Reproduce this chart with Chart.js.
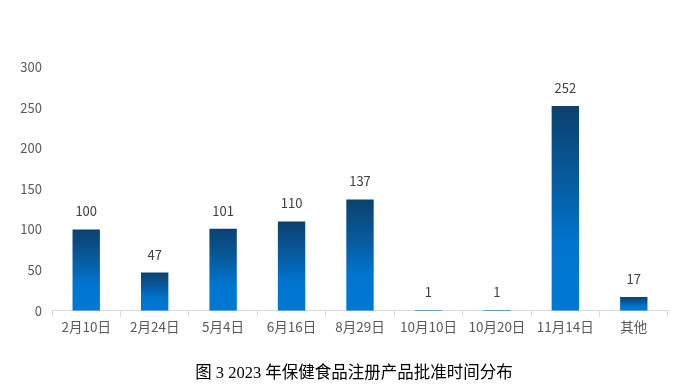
<!DOCTYPE html>
<html>
<head>
<meta charset="utf-8">
<script src="https://cdn.jsdelivr.net/npm/chart.js@4"></script>
<style>
  html, body { margin: 0; padding: 0; background: #fff; }
  #wrap { width: 687px; height: 392px; }
</style>
</head>
<body>
<div id="wrap"><canvas id="chart" width="687" height="392"></canvas></div>
<script>
// ----------------------------Data----------------------------
const categories = ['2月10日', '2月24日', '5月4日', '6月16日', '8月29日', '10月10日', '10月20日', '11月14日', '其他'];
const approvals = [100, 47, 101, 110, 137, 1, 1, 252, 17];
const yTicks = [0, 50, 100, 150, 200, 250, 300];
const chartTitle = '图 3 2023 年保健食品注册产品批准时间分布';

const cjkFont = "'Noto Sans CJK SC', 'Noto Sans', sans-serif";

// gradient per bar: dark navy on top, bright blue at the base
function barGradient(ctx) {
    const chart = ctx.chart;
    const yScale = chart.scales.y;
    if (!yScale || !chart.chartArea) return '#0070C8';
    const top = yScale.getPixelForValue(ctx.raw);
    const base = yScale.getPixelForValue(0);
    if (!isFinite(top) || !isFinite(base) || base - top < 1) return '#0A6FBF';
    const g = chart.ctx.createLinearGradient(0, top, 0, base);
    g.addColorStop(0, '#0C416F');
    g.addColorStop(0.35, '#075A9C');
    g.addColorStop(0.68, '#0075CF');
    g.addColorStop(1, '#0078D4');
    return g;
}

// value labels above every bar
const valueLabels = {
    id: 'valueLabels',
    afterDatasetsDraw(chart) {
        const ctx = chart.ctx;
        const meta = chart.getDatasetMeta(0);
        ctx.save();
        ctx.font = '13px ' + cjkFont;
        ctx.fillStyle = '#404040';
        ctx.textAlign = 'center';
        ctx.textBaseline = 'middle';
        meta.data.forEach((bar, i) => {
            ctx.fillText(String(approvals[i]), bar.x, bar.y - 18);
        });
        ctx.restore();
    }
};

// caption under the chart, a bit right of the canvas centre like the original
const caption = {
    id: 'caption',
    afterDraw(chart) {
        const ctx = chart.ctx;
        ctx.save();
        ctx.font = "16.5px 'Liberation Serif', 'Noto Sans CJK SC', serif";
        ctx.fillStyle = '#000';
        ctx.textAlign = 'center';
        ctx.textBaseline = 'middle';
        ctx.fillText(chartTitle, 354, 374);
        ctx.restore();
    }
};

new Chart(document.getElementById('chart'), {
    type: 'bar',
    data: {
        labels: categories,
        datasets: [{
            data: approvals,
            backgroundColor: barGradient,
            borderWidth: 0,
            categoryPercentage: 1,
            barPercentage: 0.4
        }]
    },
    options: {
        responsive: false,
        animation: false,
        layout: { padding: { left: 0, right: 19, top: 67, bottom: 55 } },
        plugins: {
            legend: { display: false },
            tooltip: { enabled: false },
            title: { display: false }
        },
        scales: {
            x: {
                grid: {
                    display: true,
                    offset: true,
                    drawOnChartArea: false,
                    drawTicks: true,
                    tickLength: 6,
                    color: '#D9D9D9'
                },
                border: { display: true, color: '#D9D9D9' },
                ticks: { color: '#595959', font: { family: cjkFont, size: 13.5 }, padding: 2, maxRotation: 0 }
            },
            y: {
                min: 0,
                max: 300,
                afterBuildTicks: scale => { scale.ticks = yTicks.map(v => ({ value: v })); },
                afterFit: scale => { scale.width = 52; },
                grid: { display: false },
                border: { display: false },
                ticks: { color: '#595959', font: { family: cjkFont, size: 13 }, padding: 2 }
            }
        }
    },
    plugins: [valueLabels, caption]
});
</script>
</body>
</html>
